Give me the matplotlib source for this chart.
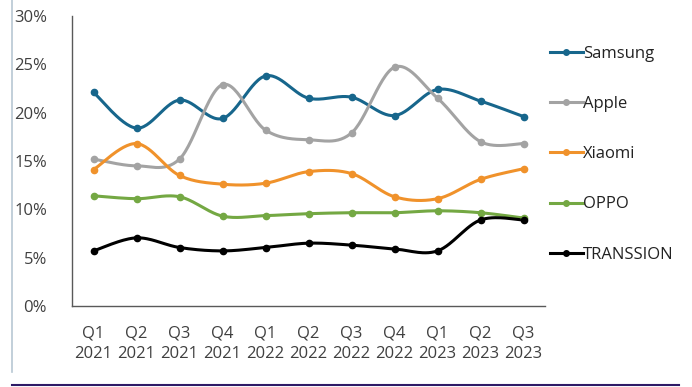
import numpy as np
import matplotlib
matplotlib.use("Agg")
import matplotlib.pyplot as plt
from matplotlib.lines import Line2D

categories = ["Q1\n2021", "Q2\n2021", "Q3\n2021", "Q4\n2021", "Q1\n2022", "Q2\n2022",
              "Q3\n2022", "Q4\n2022", "Q1\n2023", "Q2\n2023", "Q3\n2023"]
samsung = [22.1, 18.4, 21.3, 19.4, 23.8, 21.5, 21.6, 19.7, 22.4, 21.2, 19.6]
apple = [15.2, 14.5, 15.2, 22.9, 18.2, 17.2, 17.9, 24.7, 21.5, 17.0, 16.8]
xiaomi = [14.1, 16.8, 13.5, 12.6, 12.7, 13.9, 13.7, 11.3, 11.1, 13.1, 14.2]
oppo = [11.4, 11.1, 11.3, 9.3, 9.35, 9.55, 9.65, 9.65, 9.85, 9.65, 9.1]
transsion = [5.7, 7.05, 6.05, 5.7, 6.05, 6.5, 6.3, 5.9, 5.7, 8.9, 8.9]
series_names = ["Samsung", "Apple", "Xiaomi", "OPPO", "TRANSSION"]
colors = ["#17668c", "#a3a3a3", "#f0922b", "#74a843", "#000000"]
yticks = [0, 5, 10, 15, 20, 25, 30]

def smooth(x, y, n=30, t=1/6):
    x = np.asarray(x, float); y = np.asarray(y, float)
    xs, ys = [], []
    for i in range(len(x) - 1):
        p0 = (x[max(i - 1, 0)], y[max(i - 1, 0)])
        p1 = (x[i], y[i]); p2 = (x[i + 1], y[i + 1])
        p3 = (x[min(i + 2, len(x) - 1)], y[min(i + 2, len(x) - 1)])
        c1 = (p1[0] + (p2[0] - p0[0]) * t, p1[1] + (p2[1] - p0[1]) * t)
        c2 = (p2[0] - (p3[0] - p1[0]) * t, p2[1] - (p3[1] - p1[1]) * t)
        s = np.linspace(0, 1, n)
        bx = (1-s)**3*p1[0] + 3*(1-s)**2*s*c1[0] + 3*(1-s)*s**2*c2[0] + s**3*p2[0]
        by = (1-s)**3*p1[1] + 3*(1-s)**2*s*c1[1] + 3*(1-s)*s**2*c2[1] + s**3*p2[1]
        xs.append(bx); ys.append(by)
    return np.concatenate(xs), np.concatenate(ys)

fig = plt.figure(figsize=(6.92, 3.87), dpi=100)
plt.rcParams['font.family'] = ['Open Sans', 'DejaVu Sans']
ax = fig.add_axes([72/692, 1 - 306/387, (545-72)/692, (306-16)/387])

x = np.arange(len(categories))
handles = []
for name, vals, c in zip(series_names, [samsung, apple, xiaomi, oppo, transsion], colors):
    sx, sy = smooth(x, vals)
    ax.plot(sx, sy, color=c, lw=2.2, solid_capstyle='round', zorder=2)
    ax.plot(x, vals, 'o', color=c, ms=4.5, zorder=3)
    handles.append(Line2D([0], [0], color=c, lw=2.2, marker='o', ms=4))

ax.set_xlim(-0.5, len(categories) - 0.5)
ax.set_ylim(0, 30)
ax.set_yticks(yticks)
ax.set_yticklabels([f"{v}%" for v in yticks], fontsize=12, color="#404040")
ax.set_xticks(x)
ax.set_xticklabels(categories, fontsize=12, color="#404040", linespacing=1.42)
ax.tick_params(length=0)
ax.tick_params(axis='x', pad=14)
ax.tick_params(axis='y', pad=18)
for s in ['top', 'right']:
    ax.spines[s].set_visible(False)
ax.spines['left'].set_color('#595959')
ax.spines['bottom'].set_color('#595959')
ax.spines['left'].set_linewidth(1.0)
ax.spines['bottom'].set_linewidth(1.0)

fig.legend(handles, series_names, loc='upper left', bbox_to_anchor=(550/692, 1 - 46/387),
           frameon=False, fontsize=12, handlelength=1.95, handletextpad=0.05,
           labelspacing=2.05, borderpad=0, borderaxespad=0, labelcolor="#222222")

fig.add_artist(Line2D([12/692, 12/692], [1 - 372/387, 1], transform=fig.transFigure,
                      color="#b7c7d3", lw=1.2))
fig.add_artist(Line2D([12/692, 679/692], [1 - 384.5/387, 1 - 384.5/387], transform=fig.transFigure,
                      color="#2e1a66", lw=1.5))

fig.savefig("out.png", dpi=100)
